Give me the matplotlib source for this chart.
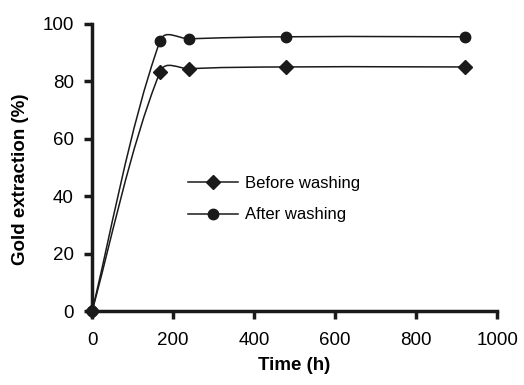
import numpy as np
import matplotlib
matplotlib.use('Agg')
import matplotlib.pyplot as plt
from matplotlib.path import Path
from matplotlib.patches import PathPatch
from matplotlib.lines import Line2D

plt.rcParams['font.family'] = ['Liberation Sans', 'DejaVu Sans']

# Data
time_h = [0, 168, 240, 480, 920]
before_washing = [0, 83.3, 84.4, 85.0, 85.0]
after_washing = [0, 94.1, 94.8, 95.5, 95.5]


# Smoothed line like spreadsheet charts: Bezier control points
# scaled by segment length in screen space
def smooth_path(ax, x, y, s=0.5):
    pts = ax.transData.transform(np.column_stack([x, y]))
    n = len(pts)
    d = np.hypot(*np.diff(pts, axis=0).T)
    c_out, c_in = [], []
    for i in range(n):
        if i == 0:
            c_out.append(pts[0] + (pts[1] - pts[0]) * s * 0.5)
            c_in.append(pts[0])
        elif i == n - 1:
            c_in.append(pts[i] - (pts[i] - pts[i - 1]) * s * 0.5)
            c_out.append(pts[i])
        else:
            D = pts[i + 1] - pts[i - 1]
            tot = d[i - 1] + d[i]
            c_out.append(pts[i] + D * s * d[i] / tot)
            c_in.append(pts[i] - D * 0.35 * d[i - 1] / tot)
    verts = [pts[0]]
    codes = [Path.MOVETO]
    for i in range(n - 1):
        verts += [c_out[i], c_in[i + 1], pts[i + 1]]
        codes += [Path.CURVE4] * 3
    verts = ax.transData.inverted().transform(np.array(verts))
    return Path(verts, codes)


fig = plt.figure(figsize=(5.24, 3.85), dpi=100)
ax = fig.add_axes([0.1756, 0.192, 0.773, 0.746])
ax.set_xlim(0, 1000)
ax.set_ylim(0, 100)

for ys, mk, ms in [(before_washing, 'D', 7), (after_washing, 'o', 7.5)]:
    ax.add_patch(PathPatch(smooth_path(ax, time_h, ys), facecolor='none',
                           edgecolor='#1a1a1a', lw=1.1, clip_on=False))
    ax.plot(time_h, ys, linestyle='none', marker=mk, ms=ms,
            color='#1a1a1a', clip_on=False, zorder=3)

ax.set_xticks([0, 200, 400, 600, 800, 1000])
ax.set_yticks([0, 20, 40, 60, 80, 100])

for s in ['top', 'right']:
    ax.spines[s].set_visible(False)
for s in ['left', 'bottom']:
    ax.spines[s].set_linewidth(2.5)
    ax.spines[s].set_color('#1a1a1a')
ax.tick_params(direction='out', length=6, width=2.5, color='#1a1a1a',
               labelsize=13.5)
ax.tick_params(axis='x', pad=9)
ax.tick_params(axis='y', pad=7)

ax.set_xlabel('Time (h)', fontsize=13.5, fontweight='bold')
ax.set_ylabel('Gold extraction (%)', fontsize=13.5, fontweight='bold')
ax.xaxis.set_label_coords(0.5, -0.16)
ax.yaxis.set_label_coords(-0.155, 0.46)

handles = [
    Line2D([], [], color='#1a1a1a', lw=1.1, marker='D', ms=7),
    Line2D([], [], color='#1a1a1a', lw=1.1, marker='o', ms=7.5),
]
ax.legend(handles, ['Before washing', 'After washing'], loc='center left',
          bbox_to_anchor=(0.2, 0.39), frameon=False, fontsize=12,
          handlelength=3.0, handletextpad=0.4, labelspacing=1.0)

fig.savefig('out.png', dpi=100)
